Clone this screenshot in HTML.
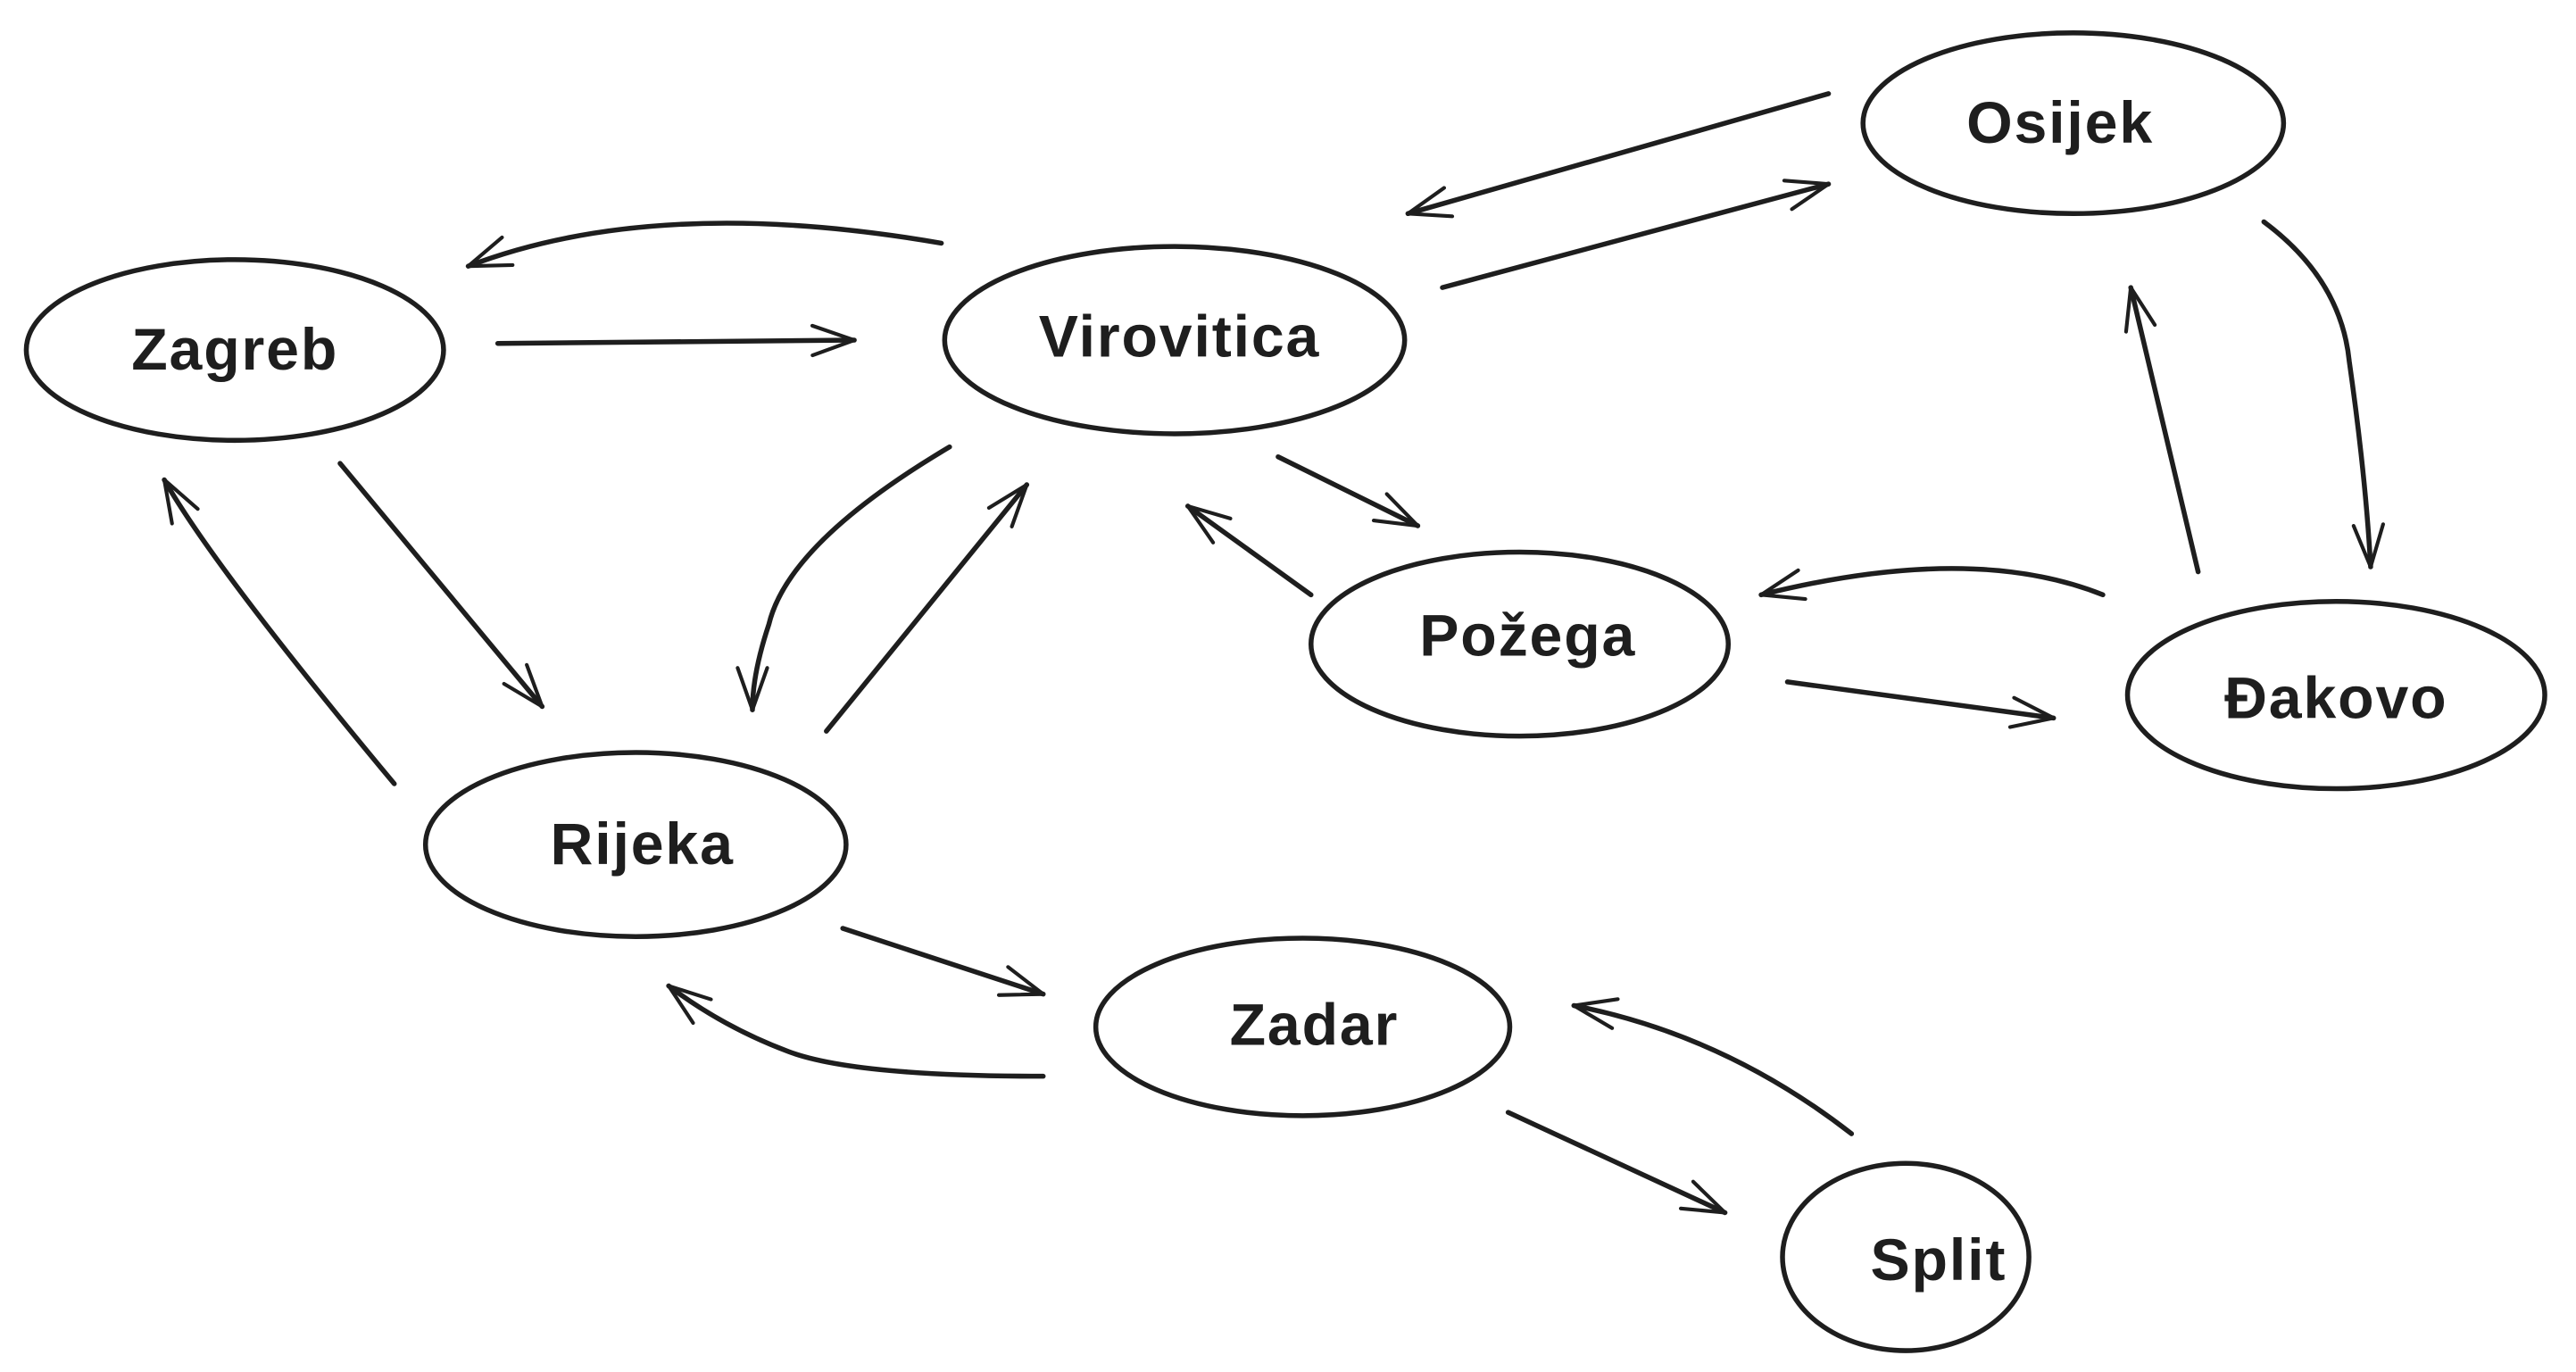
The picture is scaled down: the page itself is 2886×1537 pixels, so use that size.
<!DOCTYPE html>
<html><head><meta charset="utf-8"><style>
html,body{margin:0;padding:0;background:#fff;width:2886px;height:1537px;overflow:hidden}
svg{display:block}
text{font-family:"Liberation Sans","DejaVu Sans",sans-serif;font-size:36px;font-weight:bold;fill:#1e1e1e;text-anchor:middle;dominant-baseline:central;letter-spacing:1px}
</style></head><body>
<svg width="2886" height="1537" viewBox="0 0 1568 835" preserveAspectRatio="none" xmlns="http://www.w3.org/2000/svg">
<defs>
<marker id="b" viewBox="0 0 40 40" refX="38" refY="20" markerWidth="30" markerHeight="30" markerUnits="userSpaceOnUse" orient="auto"><path d="M4,8 L38,20 L4,32" fill="none" stroke="#1e1e1e" stroke-width="3" stroke-linecap="round" stroke-linejoin="round"/></marker></defs>
<g fill="none" stroke="#1e1e1e" stroke-width="3" stroke-linecap="round">
<ellipse cx="143" cy="213" rx="127" ry="55"/>
<ellipse cx="715" cy="207" rx="140" ry="57"/>
<ellipse cx="1262" cy="75" rx="128" ry="55"/>
<ellipse cx="925" cy="392" rx="127" ry="56"/>
<ellipse cx="1422" cy="423" rx="127" ry="57"/>
<ellipse cx="387" cy="514" rx="128" ry="56"/>
<ellipse cx="793" cy="625" rx="126" ry="54"/>
<ellipse cx="1160" cy="765" rx="75" ry="57"/>
<g marker-end="url(#b)">
<path d="M573,148 Q400,118 285,162"/>
<path d="M303,209 L520,207"/>
<path d="M1113,57 L857,130"/>
<path d="M878,175 L1113,112"/>
<path d="M1378,135 Q1425,170 1430,220 Q1440,290 1443,345"/>
<path d="M1338,348 L1297,175"/>
<path d="M1280,362 Q1200,330 1072,362"/>
<path d="M1088,415 L1250,437"/>
<path d="M778,278 L863,320"/>
<path d="M798,362 L723,308"/>
<path d="M578,272 Q480,330 468,380 Q458,410 458,432"/>
<path d="M503,445 L625,295"/>
<path d="M207,282 L330,430"/>
<path d="M240,477 Q130,345 100,292"/>
<path d="M513,565 L635,605"/>
<path d="M635,655 Q520,655 480,640 Q440,625 407,600"/>
<path d="M918,677 L1050,738"/>
<path d="M1127,690 Q1050,630 958,612"/>
</g>
</g>
<text x="143" y="213">Zagreb</text>
<text x="718" y="205">Virovitica</text>
<text x="1254" y="75">Osijek</text>
<text x="930" y="387">Požega</text>
<text x="1422" y="425">Đakovo</text>
<text x="391" y="514">Rijeka</text>
<text x="800" y="624">Zadar</text>
<text x="1180" y="767">Split</text>
</svg>
</body></html>
